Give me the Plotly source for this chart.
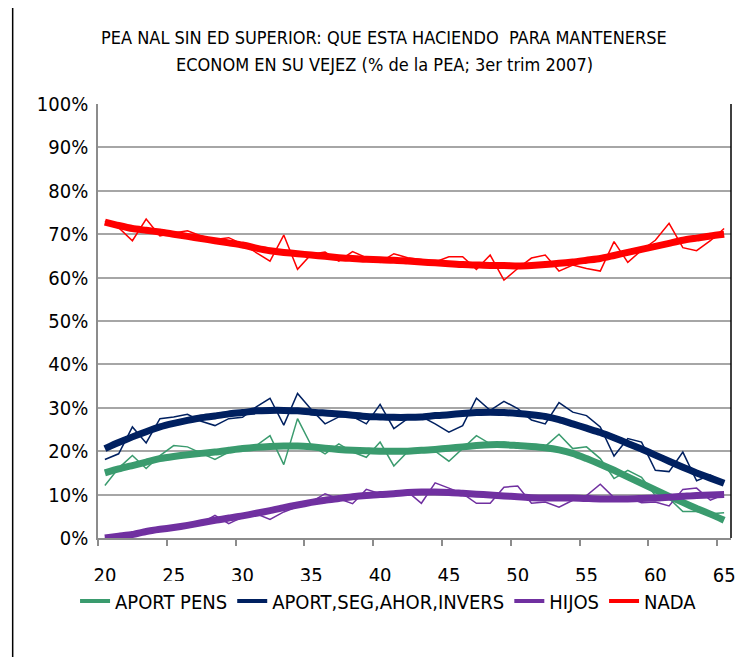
import plotly.graph_objects as go

ages = list(range(20, 66))

aport_pens_raw = [12.1, 16.1, 19.0, 16.0, 19.0, 21.3, 21.0, 19.5, 18.1, 19.8,
                  20.3, 21.3, 23.6, 16.9, 27.5, 21.3, 19.4, 21.7, 19.8, 18.6,
                  22.1, 16.6, 19.9, 20.0, 20.0, 17.7, 20.6, 23.6, 21.7, 22.1,
                  21.5, 21.0, 21.1, 23.9, 20.6, 21.0, 18.3, 13.7, 15.6, 14.0,
                  9.8, 9.1, 6.1, 6.1, 5.6, 5.8]
aport_pens_trend = [15.0, 15.9, 16.7, 17.5, 18.3, 18.8, 19.2, 19.5, 19.8, 20.2,
                    20.6, 20.9, 21.1, 21.2, 21.2, 21.0, 20.7, 20.4, 20.2, 20.1,
                    20.0, 20.0, 20.0, 20.2, 20.4, 20.7, 21.0, 21.3, 21.5, 21.5,
                    21.3, 21.1, 20.8, 20.3, 19.5, 18.3, 17.0, 15.6, 14.1, 12.6,
                    11.1, 9.6, 8.2, 6.8, 5.5, 4.1]

aport_seg_raw = [18.1, 19.4, 25.6, 21.9, 27.5, 27.9, 28.5, 26.9, 25.9, 27.5,
                 27.8, 30.2, 32.2, 26.0, 33.3, 29.6, 26.3, 27.9, 28.0, 26.3,
                 30.8, 25.2, 27.5, 28.0, 26.3, 24.4, 25.9, 32.2, 29.4, 31.5,
                 29.8, 27.2, 26.3, 31.2, 29.0, 28.2, 25.6, 18.9, 22.9, 22.1,
                 15.6, 15.3, 19.8, 13.2, 14.5, 12.8]
aport_seg_trend = [20.6, 22.0, 23.3, 24.5, 25.6, 26.4, 27.1, 27.7, 28.1, 28.6,
                   28.9, 29.3, 29.4, 29.4, 29.3, 29.0, 28.8, 28.6, 28.3, 28.0,
                   27.9, 27.8, 27.8, 27.9, 28.2, 28.4, 28.7, 28.9, 29.0, 28.9,
                   28.7, 28.4, 28.0, 27.3, 26.3, 25.3, 24.3, 23.1, 21.8, 20.5,
                   19.1, 17.7, 16.3, 15.0, 13.8, 12.6]

hijos_raw = [0.0, 0.3, 0.8, 1.6, 1.9, 2.5, 2.8, 3.4, 5.2, 3.3,
             4.8, 5.6, 4.3, 6.0, 7.2, 8.3, 10.2, 9.1, 7.9, 11.2,
             10.2, 10.2, 10.7, 8.0, 12.7, 11.5, 10.2, 8.0, 8.0, 11.7,
             12.0, 8.0, 8.3, 7.1, 8.7, 9.8, 12.4, 9.3, 9.3, 8.1,
             8.3, 7.4, 11.2, 11.5, 8.7, 10.0]
hijos_trend = [0.0, 0.4, 0.8, 1.5, 2.0, 2.4, 2.9, 3.5, 4.1, 4.6,
               5.1, 5.7, 6.3, 7.0, 7.6, 8.2, 8.7, 9.1, 9.5, 9.8,
               10.0, 10.2, 10.5, 10.6, 10.6, 10.5, 10.3, 10.1, 9.9, 9.7,
               9.5, 9.3, 9.2, 9.2, 9.2, 9.1, 9.0, 9.0, 9.0, 9.1,
               9.2, 9.4, 9.6, 9.8, 9.9, 10.0]

nada_raw = [73.0, 71.5, 68.5, 73.5, 69.6, 70.3, 70.8, 69.6, 68.8, 69.2,
            67.7, 65.8, 63.8, 69.8, 61.9, 65.4, 65.9, 63.8, 66.0, 64.6,
            63.5, 65.5, 64.6, 64.2, 63.6, 64.8, 64.8, 61.9, 65.2, 59.4,
            62.1, 64.5, 65.2, 61.5, 62.9, 62.1, 61.5, 68.3, 63.5, 66.3,
            68.6, 72.5, 66.9, 66.2, 68.5, 71.3]
nada_trend = [72.8, 72.0, 71.3, 70.9, 70.5, 70.0, 69.5, 69.0, 68.5, 68.0,
              67.5, 66.8, 66.2, 65.8, 65.5, 65.2, 64.9, 64.6, 64.4, 64.2,
              64.1, 64.0, 63.8, 63.6, 63.4, 63.2, 63.0, 62.9, 62.8, 62.8,
              62.7, 62.8, 63.0, 63.3, 63.6, 64.0, 64.4, 65.1, 65.8, 66.5,
              67.2, 67.9, 68.6, 69.1, 69.6, 70.0]

series_names = ["APORT PENS", "APORT,SEG,AHOR,INVERS", "HIJOS", "NADA"]
colors = ["#3A9B6E", "#002060", "#7030A0", "#FF0000"]
raws = [aport_pens_raw, aport_seg_raw, hijos_raw, nada_raw]
trends = [aport_pens_trend, aport_seg_trend, hijos_trend, nada_trend]

title_lines = ["PEA NAL SIN ED SUPERIOR: QUE ESTA HACIENDO  PARA MANTENERSE",
               "ECONOM EN SU VEJEZ (% de la PEA; 3er trim 2007)"]

FONT = "DejaVu Sans Condensed, Liberation Sans Narrow, sans-serif"

fig = go.Figure()
for name, col, raw in zip(series_names, colors, raws):
    fig.add_trace(go.Scatter(x=ages, y=raw, mode="lines",
                             line=dict(color=col, width=1.5),
                             showlegend=False, hoverinfo="skip"))
for name, col, tr in zip(series_names, colors, trends):
    fig.add_trace(go.Scatter(x=ages, y=tr, mode="lines",
                             line=dict(color=col, width=7, shape="spline", smoothing=0.6),
                             showlegend=False, name=name))
for name, col in zip(series_names, colors):
    fig.add_trace(go.Scatter(x=[None], y=[None], mode="lines",
                             line=dict(color=col, width=4), name=name,
                             showlegend=True))

fig.update_layout(
    width=745, height=657,
    margin=dict(l=98, r=9, t=104, b=119),
    paper_bgcolor="white", plot_bgcolor="white",
    font=dict(family=FONT, size=19, color="#000000"),
    legend=dict(orientation="h", x=0.459, xanchor="center", y=-0.145,
                yanchor="middle", font=dict(family=FONT, size=20),
                itemwidth=30, tracegroupgap=0),
    showlegend=True,
)
for i, line in enumerate(title_lines):
    fig.add_annotation(text=line, xref="paper", yref="paper", x=0.452, xanchor="center",
                       y=1 + (104 - (38 + 27 * i)) / 434, yanchor="middle",
                       showarrow=False, font=dict(family=FONT, size=18, color="#000000"))

fig.update_xaxes(range=[19.5, 65.5], tickvals=list(range(20, 66, 5)),
                 ticks="", showgrid=False, showline=True, linecolor="#8C8C8C",
                 linewidth=1.5, zeroline=False,
                 minor=dict(ticks="outside", tickvals=[19.5 + 5 * k for k in range(10)],
                            ticklen=6, tickcolor="#8C8C8C", tickwidth=1.5, showgrid=False),
                 tickfont=dict(family=FONT, size=20), ticklabelstandoff=18)
fig.update_yaxes(range=[0, 100], dtick=10, ticksuffix="%", showgrid=True,
                 gridcolor="#A6A6A6", gridwidth=1.5, showline=True,
                 linecolor="#8C8C8C", linewidth=1.5, zeroline=False,
                 ticks="", tickfont=dict(family=FONT, size=20), ticklabelstandoff=4)
fig.add_shape(type="line", xref="x domain", yref="y domain", x0=1, x1=1, y0=0, y1=1,
              line=dict(color="black", width=1.5))
fig.add_shape(type="line", xref="paper", yref="paper",
              x0=(12 - 98) / 638, x1=(12 - 98) / 638, y0=-119 / 434, y1=1 + 96 / 434,
              line=dict(color="black", width=1.5))

fig.write_html("out.html", config={"displayModeBar": False},
               post_script="document.body.style.margin='0';")
